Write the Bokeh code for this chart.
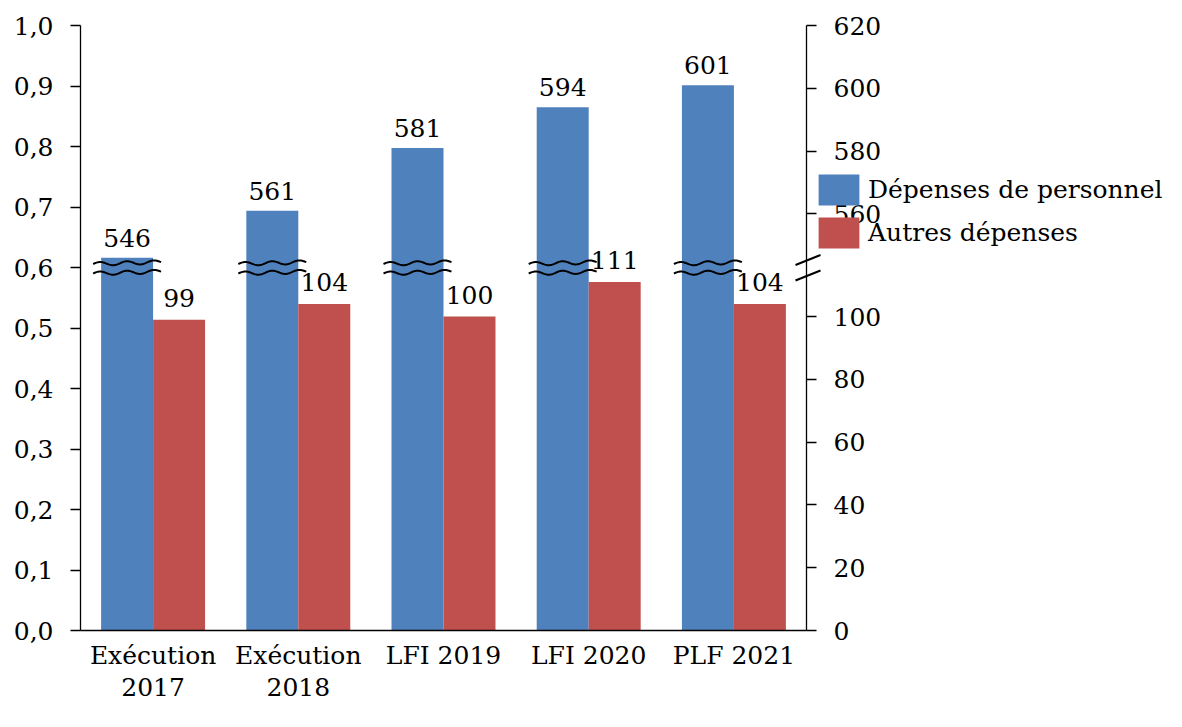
import numpy as np
from bokeh.plotting import figure
from bokeh.layouts import row
from bokeh.models import Range1d, LinearAxis, FixedTicker, Legend, LegendItem
from bokeh.core.properties import value
from bokeh.embed import file_html
from bokeh.resources import INLINE

# ---------------- data ----------------
categories = ["Exécution\n2017", "Exécution\n2018", "LFI 2019", "LFI 2020", "PLF 2021"]
personnel = [546, 561, 581, 594, 601]          # Dépenses de personnel (upper part of right axis)
autres = [99, 104, 100, 111, 104]              # Autres dépenses (lower part of right axis)
left_ticks = [0.0, 0.1, 0.2, 0.3, 0.4, 0.5, 0.6, 0.7, 0.8, 0.9, 1.0]
left_tick_labels = ["0,0", "0,1", "0,2", "0,3", "0,4", "0,5", "0,6", "0,7", "0,8", "0,9", "1,0"]
right_low_ticks = [0, 20, 40, 60, 80, 100]
right_high_ticks = [560, 580, 600, 620]
legend_labels = ["Dépenses de personnel", "Autres dépenses"]

# ---------------- style ----------------
BLUE = "#4F81BD"
RED = "#C0504D"
FONT = "DejaVu Serif"
FS = "25px"

# broken right scale: both parts share the same units-per-pixel
SPAN = 192.7                     # units shown over the full plot height
HIGH_END = 620
HIGH_START = HIGH_END - SPAN
BREAK = 0.6                      # break level, in left-axis units

MAIN_W, H = 900, 711
x_range = Range1d(-0.5, len(categories) - 0.5)
y_range = Range1d(0, 1)
low_range = Range1d(0, SPAN)
high_range = Range1d(HIGH_START, HIGH_END)

p = figure(width=MAIN_W, height=H, output_backend="svg", toolbar_location=None,
           x_range=x_range, y_range=y_range,
           min_border_left=80, min_border_right=94, min_border_top=25, min_border_bottom=81)
p.extra_y_ranges = {"low": low_range, "high": high_range}
p.outline_line_color = None
p.xgrid.visible = False
p.ygrid.visible = False
p.background_fill_color = "white"
p.border_fill_color = "white"

x = np.arange(len(categories))
bw = 0.358
xb = x - bw / 2
xr = x + bw / 2

p.vbar(x=xb, top=personnel, bottom=HIGH_START, width=bw, y_range_name="high",
       fill_color=BLUE, line_color=None)
p.vbar(x=xr, top=autres, bottom=0, width=bw, y_range_name="low",
       fill_color=RED, line_color=None)

p.text(x=xb, y=personnel, text=[str(v) for v in personnel], y_range_name="high",
       text_align="center", text_baseline="alphabetic", y_offset=-20,
       text_font=value(FONT), text_font_size=FS, text_color="black")
p.text(x=xr, y=autres, text=[str(v) for v in autres], y_range_name="low",
       text_align="center", text_baseline="alphabetic", y_offset=-22,
       text_font=value(FONT), text_font_size=FS, text_color="black")

# break symbols (wavy double line) on the blue bars
px_x = 145.2   # pixels per category unit
px_y = 605.0   # pixels per left-axis unit
t = np.linspace(-34, 34, 80)
xs, ys = [], []
for xc in xb:
    for lvl in (BREAK + 4.5 / px_y, BREAK - 5.0 / px_y):
        xs.append(list(xc + t / px_x))
        ys.append(list(lvl + (1.8 * np.sin(2 * np.pi * (t + 34) / 27.0) + t * 0.03) / px_y))
p.multi_line(xs=xs, ys=ys, line_color="black", line_width=2)

# axes
lax = p.yaxis[0]
lax.ticker = FixedTicker(ticks=left_ticks)
lax.major_label_overrides = dict(zip(left_ticks, left_tick_labels))
xax = p.xaxis[0]
xax.ticker = FixedTicker(ticks=list(range(len(categories))))
xax.major_label_overrides = {i: c for i, c in enumerate(categories)}
xax.major_tick_out = 0
xax.major_tick_in = 0
xax.major_label_standoff = 10
xax.major_label_text_line_height = 1.12

rax = LinearAxis(y_range_name="low")
high_pos = [v - HIGH_START for v in right_high_ticks]
rax.ticker = FixedTicker(ticks=right_low_ticks + high_pos)
ov = {v: str(v) for v in right_low_ticks}
ov.update({hp: str(v) for hp, v in zip(high_pos, right_high_ticks)})
rax.major_label_overrides = ov
p.add_layout(rax, "right")

for ax in [lax, rax]:
    ax.major_tick_out = 10
    ax.major_tick_in = 0
    ax.minor_tick_out = 0
    ax.minor_tick_in = 0
    ax.major_label_standoff = 17
for ax in [lax, rax, xax]:
    ax.axis_line_color = "black"
    ax.axis_line_width = 1.3
    ax.major_tick_line_color = "black"
    ax.major_tick_line_width = 1.3
    ax.major_label_text_font = FONT
    ax.major_label_text_font_size = FS
    ax.major_label_text_color = "black"

# ------- transparent overlay figure: right-axis break mark and legend -------
OVER_START = 16                  # px left of the right axis where the overlay begins
frame_right = 80 + len(categories) * px_x
LEG_W = int(round(1166 - frame_right + OVER_START))
x_end = len(categories) - 0.5
q = figure(width=LEG_W, height=H, output_backend="svg", toolbar_location=None,
           x_range=Range1d(x_end - OVER_START / px_x, x_end + (LEG_W - OVER_START) / px_x),
           y_range=y_range, x_axis_type=None, y_axis_type=None,
           min_border_left=0, min_border_right=0, min_border_top=25, min_border_bottom=81,
           margin=(0, 0, 0, -(MAIN_W - int(round(frame_right)) + OVER_START)))
q.extra_y_ranges = {"low": low_range, "high": high_range}
q.outline_line_color = None
q.background_fill_color = None
q.border_fill_color = None
q.grid.visible = False

# double slash across the right axis at the break
for dy in (7.0, -8.5):
    q.segment(x0=[x_end - 11 / px_x], y0=[BREAK + (dy - 4.5) / px_y],
              x1=[x_end + 14 / px_x], y1=[BREAK + (dy + 5.5) / px_y],
              line_color="black", line_width=2)

# same bar series, hidden here (drawn in the main figure) -> used for the legend glyphs
lb = q.vbar(x=xb, top=personnel, bottom=HIGH_START, width=bw, y_range_name="high",
            fill_color=BLUE, line_color=None, visible=False)
lr = q.vbar(x=xr, top=autres, bottom=0, width=bw, y_range_name="low",
            fill_color=RED, line_color=None, visible=False)
legend = Legend(items=[LegendItem(label=legend_labels[0], renderers=[lb]),
                       LegendItem(label=legend_labels[1], renderers=[lr])],
                location=(OVER_START + 7, 378), glyph_width=51, glyph_height=39, spacing=4,
                label_standoff=4, padding=0, margin=0,
                border_line_alpha=0, background_fill_alpha=0,
                inactive_fill_alpha=0,
                label_text_font=FONT, label_text_font_size=FS, label_text_color="black")
q.add_layout(legend)

layout = row(p, q, spacing=0)
open("out.html", "w").write(file_html(layout, INLINE))
